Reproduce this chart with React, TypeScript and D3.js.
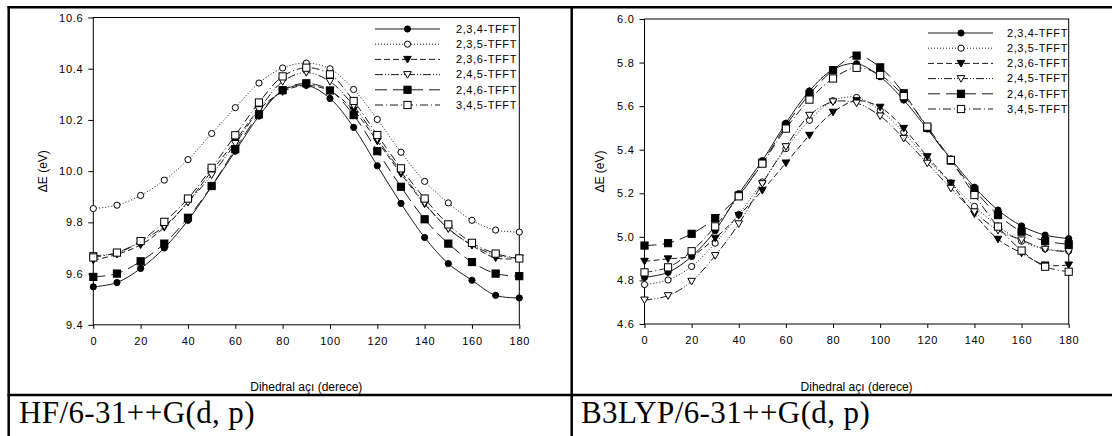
import React, { useEffect, useRef } from "react";
import * as d3 from "d3";

const angles = [0, 10, 20, 30, 40, 50, 60, 70, 80, 90, 100, 110, 120, 130, 140, 150, 160, 170, 180];
const seriesNames = ["2,3,4-TFFT", "2,3,5-TFFT", "2,3,6-TFFT", "2,4,5-TFFT", "2,4,6-TFFT", "3,4,5-TFFT"];

// HF/6-31++G(d, p)
const hf234 = [9.548, 9.565, 9.62, 9.70, 9.808, 9.94, 10.078, 10.215, 10.315, 10.335, 10.284, 10.171, 10.021, 9.874, 9.741, 9.639, 9.574, 9.515, 9.505];
const hf235 = [9.854, 9.867, 9.905, 9.965, 10.045, 10.147, 10.248, 10.344, 10.403, 10.422, 10.4, 10.319, 10.202, 10.074, 9.96, 9.876, 9.808, 9.77, 9.762];
const hf236 = [9.652, 9.675, 9.712, 9.78, 9.88, 10.0, 10.118, 10.24, 10.31, 10.335, 10.313, 10.238, 10.117, 9.99, 9.872, 9.776, 9.71, 9.661, 9.659];
const hf245 = [9.67, 9.68, 9.725, 9.785, 9.878, 9.985, 10.108, 10.24, 10.35, 10.385, 10.35, 10.255, 10.125, 9.998, 9.875, 9.775, 9.712, 9.672, 9.66];
const hf246 = [9.587, 9.6, 9.648, 9.717, 9.818, 9.942, 10.086, 10.222, 10.316, 10.343, 10.315, 10.219, 10.078, 9.939, 9.812, 9.717, 9.645, 9.6, 9.59];
const hf345 = [9.663, 9.682, 9.727, 9.802, 9.893, 10.013, 10.14, 10.268, 10.37, 10.404, 10.378, 10.274, 10.141, 10.011, 9.893, 9.792, 9.72, 9.678, 9.659];

// B3LYP/6-31++G(d, p)
const b3234 = [4.814, 4.837, 4.91, 5.029, 5.198, 5.35, 5.522, 5.67, 5.768, 5.795, 5.735, 5.628, 5.495, 5.358, 5.228, 5.123, 5.05, 5.008, 4.992];
const b3235 = [4.781, 4.802, 4.864, 4.971, 5.103, 5.252, 5.405, 5.535, 5.625, 5.64, 5.58, 5.48, 5.355, 5.248, 5.14, 5.05, 4.98, 4.945, 4.935];
const b3236 = [4.888, 4.899, 4.914, 4.994, 5.098, 5.213, 5.339, 5.466, 5.572, 5.625, 5.595, 5.498, 5.368, 5.246, 5.105, 4.989, 4.925, 4.871, 4.871];
const b3245 = [4.71, 4.73, 4.796, 4.914, 5.06, 5.244, 5.414, 5.558, 5.62, 5.614, 5.555, 5.452, 5.338, 5.223, 5.115, 5.03, 4.986, 4.943, 4.932];
const b3246 = [4.96, 4.971, 5.014, 5.086, 5.19, 5.34, 5.51, 5.655, 5.765, 5.832, 5.778, 5.659, 5.5, 5.35, 5.215, 5.1, 5.024, 4.981, 4.966];
const b3345 = [4.837, 4.86, 4.934, 5.048, 5.186, 5.336, 5.497, 5.63, 5.727, 5.776, 5.743, 5.646, 5.506, 5.353, 5.192, 5.047, 4.937, 4.863, 4.84];

const xTicks = [0, 20, 40, 60, 80, 100, 120, 140, 160, 180];
const hfYTicks = [9.4, 9.6, 9.8, 10.0, 10.2, 10.4, 10.6];
const b3YTicks = [4.6, 4.8, 5.0, 5.2, 5.4, 5.6, 5.8, 6.0];
const captions = ["HF/6-31++G(d, p)", "B3LYP/6-31++G(d, p)"];
const xTitle = "Dihedral açı (derece)";
const yTitle = "ΔE (eV)";

type Mk = { dash: string; shape: "circle" | "square" | "tri"; filled: boolean };
const markStyles: Mk[] = [
  { dash: "", shape: "circle", filled: true },
  { dash: "1,2", shape: "circle", filled: false },
  { dash: "6,3", shape: "tri", filled: true },
  { dash: "8,2,1,2,1,2", shape: "tri", filled: false },
  { dash: "12,6", shape: "square", filled: true },
  { dash: "8,3,1,3", shape: "square", filled: false },
];

const SANS = "'Liberation Sans', Arial, sans-serif";
const SERIF = "'Liberation Serif', 'Times New Roman', serif";

function drawMarker(g: any, shape: string, filled: boolean, x: number, y: number) {
  const fill = filled ? "#000" : "#fff";
  if (shape === "circle") {
    g.append("circle").attr("cx", x).attr("cy", y).attr("r", 3.1).attr("fill", fill).attr("stroke", "#000").attr("stroke-width", 1);
  } else if (shape === "square") {
    g.append("rect").attr("x", x - 3.6).attr("y", y - 3.6).attr("width", 7.2).attr("height", 7.2).attr("fill", fill).attr("stroke", "#000").attr("stroke-width", 1);
  } else {
    const p = d3.path();
    p.moveTo(x - 3.8, y - 3);
    p.lineTo(x + 3.8, y - 3);
    p.lineTo(x, y + 3.6);
    p.closePath();
    g.append("path").attr("d", p.toString()).attr("fill", fill).attr("stroke", "#000").attr("stroke-width", 1);
  }
}

type Panel = {
  x0: number; x1: number; y0: number; y1: number;
  domain: [number, number]; yTicks: number[]; series: number[][];
  lx0: number; lx1: number; mx: number; tx: number; ty0: number;
  yTitleX: number;
};

function drawPanel(svg: any, cfg: Panel) {
  const x = d3.scaleLinear().domain([0, 180]).range([cfg.x0, cfg.x1]);
  const y = d3.scaleLinear().domain(cfg.domain).range([cfg.y1, cfg.y0]);
  const g = svg.append("g");

  g.append("rect").attr("x", cfg.x0).attr("y", cfg.y0).attr("width", cfg.x1 - cfg.x0).attr("height", cfg.y1 - cfg.y0)
    .attr("fill", "none").attr("stroke", "#000").attr("stroke-width", 1);

  const ax = g.append("g").attr("transform", `translate(0,${cfg.y1})`)
    .call(d3.axisBottom(x).tickValues(xTicks).tickSize(4).tickPadding(8).tickFormat(d3.format("d")));
  const ay = g.append("g").attr("transform", `translate(${cfg.x0},0)`)
    .call(d3.axisLeft(y).tickValues(cfg.yTicks).tickSize(5).tickPadding(5).tickFormat(d3.format(".1f")));
  [ax, ay].forEach((a) => {
    a.select(".domain").remove();
    a.selectAll("line").attr("stroke", "#000");
    a.selectAll("text").attr("font-family", SANS).attr("font-size", 11).attr("letter-spacing", 0.7).attr("fill", "#000");
  });

  g.append("text").attr("x", (cfg.x0 + cfg.x1) / 2).attr("y", 391).attr("text-anchor", "middle")
    .attr("font-family", SANS).attr("font-size", 12).attr("fill", "#000").text(xTitle);
  g.append("text").attr("transform", `translate(${cfg.yTitleX},${(cfg.y0 + cfg.y1) / 2}) rotate(-90)`)
    .attr("text-anchor", "middle").attr("dy", "0.35em")
    .attr("font-family", SANS).attr("font-size", 12).attr("fill", "#000").text(yTitle);

  const line = d3.line<number>().x((_d, i) => x(angles[i])).y((d) => y(d)).curve(d3.curveCatmullRom.alpha(0.5));

  cfg.series.forEach((vals, si) => {
    const st = markStyles[si];
    g.append("path").attr("d", line(vals)).attr("fill", "none").attr("stroke", "#1a1a1a").attr("stroke-width", 1)
      .attr("stroke-dasharray", st.dash || null);
  });
  cfg.series.forEach((vals, si) => {
    const st = markStyles[si];
    vals.forEach((v, i) => drawMarker(g, st.shape, st.filled, x(angles[i]), y(v)));
  });

  seriesNames.forEach((name, si) => {
    const st = markStyles[si];
    const ly = cfg.ty0 + si * 15.2;
    g.append("line").attr("x1", cfg.lx0).attr("x2", cfg.lx1).attr("y1", ly).attr("y2", ly)
      .attr("stroke", "#1a1a1a").attr("stroke-width", 1).attr("stroke-dasharray", st.dash || null);
    drawMarker(g, st.shape, st.filled, cfg.mx, ly);
    g.append("text").attr("x", cfg.tx).attr("y", ly).attr("dy", "0.35em").attr("font-family", SANS)
      .attr("font-size", 11).attr("letter-spacing", 0.6).attr("fill", "#000").text(name);
  });
}

export default function App() {
  const ref = useRef<SVGSVGElement>(null);
  useEffect(() => {
    const svg = d3.select(ref.current);
    svg.selectAll("*").remove();
    svg.append("rect").attr("width", 1112).attr("height", 436).attr("fill", "#fff");

    drawPanel(svg, {
      x0: 93.3, x1: 519.3, y0: 17.5, y1: 324.8, domain: [9.4, 10.6], yTicks: hfYTicks,
      series: [hf234, hf235, hf236, hf245, hf246, hf345],
      lx0: 375, lx1: 440, mx: 407.5, tx: 456, ty0: 29, yTitleX: 43,
    });
    drawPanel(svg, {
      x0: 644.5, x1: 1068.7, y0: 19, y1: 324, domain: [4.6, 6.0], yTicks: b3YTicks,
      series: [b3234, b3235, b3236, b3245, b3246, b3345],
      lx0: 928, lx1: 993, mx: 961, tx: 1007, ty0: 33, yTitleX: 600,
    });

    const tb = svg.append("g").attr("stroke", "#000").attr("stroke-width", 2.5);
    tb.append("line").attr("x1", 7.5).attr("x2", 1112).attr("y1", 7.3).attr("y2", 7.3);
    tb.append("line").attr("x1", 8.7).attr("x2", 8.7).attr("y1", 6).attr("y2", 436);
    tb.append("line").attr("x1", 571.7).attr("x2", 571.7).attr("y1", 6).attr("y2", 436);
    tb.append("line").attr("x1", 7.5).attr("x2", 1112).attr("y1", 395).attr("y2", 395);

    svg.append("text").attr("x", 19).attr("y", 423).attr("font-family", SERIF).attr("font-size", 31)
      .attr("letter-spacing", 0.4).attr("fill", "#000").text(captions[0]);
    svg.append("text").attr("x", 581).attr("y", 423).attr("font-family", SERIF).attr("font-size", 31)
      .attr("letter-spacing", 0.4).attr("fill", "#000").text(captions[1]);
  }, []);
  return <svg ref={ref} width={1112} height={436} style={{ position: "absolute", left: 0, top: 0 }} />;
}
